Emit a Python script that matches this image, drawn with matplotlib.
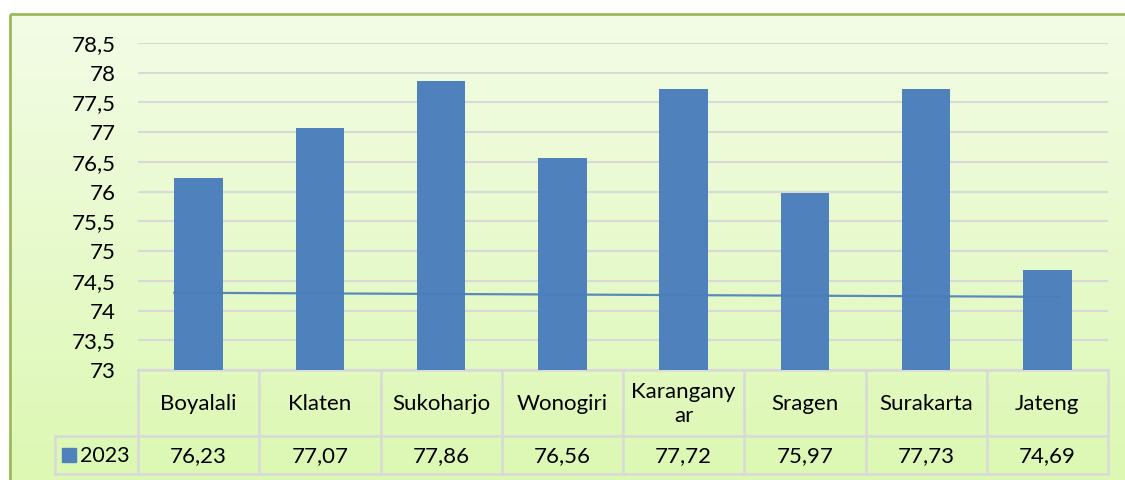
import numpy as np
import matplotlib.pyplot as plt
from matplotlib.patches import Rectangle

categories = ["Boyalali", "Klaten", "Sukoharjo", "Wonogiri", "Karangany\nar",
              "Sragen", "Surakarta", "Jateng"]
values = [76.23, 77.07, 77.86, 76.56, 77.72, 75.97, 77.73, 74.69]
value_labels = ["76,23", "77,07", "77,86", "76,56", "77,72", "75,97", "77,73", "74,69"]
series_name = "2023"
trend_x = [-0.2, 7.1]
trend_y = [74.30, 74.23]
yticks = [73, 73.5, 74, 74.5, 75, 75.5, 76, 76.5, 77, 77.5, 78, 78.5]
ytick_labels = ["73", "73,5", "74", "74,5", "75", "75,5", "76", "76,5", "77", "77,5", "78", "78,5"]

plt.rcParams['font.family'] = ['Lato', 'DejaVu Sans']
bar_color = "#4F81BD"
grid_color = "#D9D9D9"
fs = 16
W, H = 1125, 480

fig = plt.figure(figsize=(11.25, 4.8), dpi=100)

# background gradient inside the chart border
bg = fig.add_axes([0, 0, 1, 1], zorder=-10)
bg.set_xlim(0, W)
bg.set_ylim(H, 0)
bg.axis('off')
top = np.array([243, 252, 230]) / 255
bot = np.array([220, 248, 178]) / 255
t = np.linspace(0, 1, 256)[:, None, None]
grad = top * (1 - t) + bot * t
grad = np.repeat(grad, 2, axis=1)
bg.imshow(grad, extent=[10, W + 5, H + 5, 14], aspect='auto', zorder=0)
bg.add_patch(Rectangle((10, 14), W, H, fill=False, edgecolor="#9BBB59", lw=2, zorder=1))

# main plot
x0, x1, y_top, y_bot = 138, 1108, 43, 370
ax = fig.add_axes([x0 / W, 1 - y_bot / H, (x1 - x0) / W, (y_bot - y_top) / H])
ax.patch.set_alpha(0)
xs = np.arange(len(categories))
ax.bar(xs, [v - 73 for v in values], bottom=73, width=0.4, color=bar_color, zorder=3)
ax.plot(trend_x, trend_y, color="#4A7EBB", lw=1.6, alpha=0.9, zorder=4)
ax.set_xlim(-0.5, len(categories) - 0.5)
ax.set_ylim(73, 78.5)
ax.set_yticks(yticks)
ax.set_yticklabels(ytick_labels, fontsize=fs)
ax.set_xticks([])
ax.tick_params(axis='y', length=0, pad=16)
ax.grid(axis='y', color=grid_color, lw=1.5, zorder=0)
for s in ax.spines.values():
    s.set_visible(False)

# data table
col_w = (x1 - x0) / len(categories)
r0, r1, r2 = 370, 436, 474
lc = dict(color=grid_color, lw=1.8, zorder=2)
bg.plot([x0, x1], [r0, r0], **lc)
bg.plot([55, x1], [r1, r1], **lc)
bg.plot([55, x1], [r2, r2], **lc)
bg.plot([55, 55], [r1, r2], **lc)
for i in range(len(categories) + 1):
    xx = x0 + i * col_w
    bg.plot([xx, xx], [r0, r2], **lc)
for i, (c, v) in enumerate(zip(categories, value_labels)):
    cx = x0 + (i + 0.5) * col_w
    bg.text(cx, (r0 + r1) / 2 + 1, c, ha='center', va='center', fontsize=fs,
            linespacing=1.25, zorder=3)
    bg.text(cx, (r1 + r2) / 2 + 1, v, ha='center', va='center', fontsize=fs, zorder=3)
bg.add_patch(Rectangle((62, 448), 14, 14, color=bar_color, zorder=3))
bg.text(80, (r1 + r2) / 2 + 1, series_name, ha='left', va='center', fontsize=15.5, zorder=3)

fig.savefig("out.png", dpi=100)
